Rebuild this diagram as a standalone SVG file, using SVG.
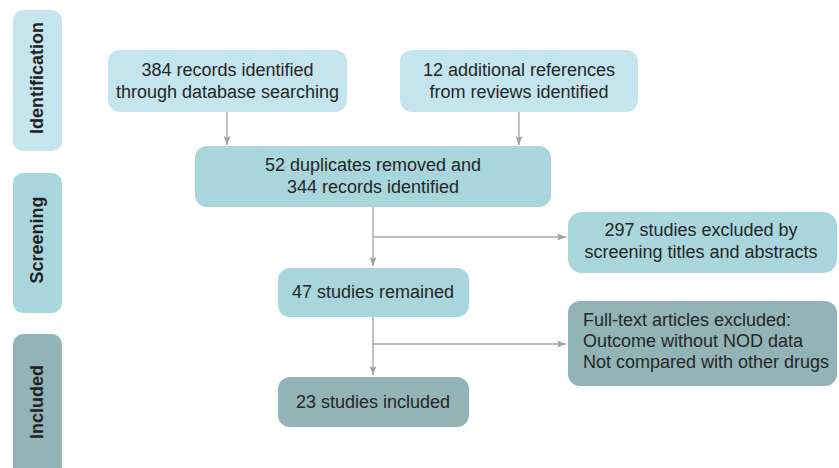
<svg xmlns="http://www.w3.org/2000/svg" width="839" height="468" viewBox="0 0 839 468">
<style>
.t{font-family:"Liberation Sans",Arial,sans-serif;font-size:18px;fill:#262626}
.c{text-anchor:middle}
.s{font-family:"Liberation Sans",Arial,sans-serif;font-size:18px;font-weight:bold;fill:#222;text-anchor:middle}
.l1{fill:#c4e4ee}
.l2{fill:#a9d6dc}
.l3{fill:#93b4b6}
.cn{stroke:#a6a6a6;stroke-width:1.4;fill:none}
</style>
<defs>
<marker id="ah" markerWidth="10" markerHeight="8" refX="9" refY="4" orient="auto" markerUnits="userSpaceOnUse">
<path d="M0,0.5 L9,4 L0,7.5 L2,4 Z" fill="#a0a0a0"/>
</marker>
</defs>
<rect width="839" height="468" fill="#fff"/>
<g id="stage-identification">
<rect class="l1" x="13" y="10" width="49" height="141" rx="10"/>
<text class="s" transform="translate(43,78) rotate(-90)">Identification</text>
</g>
<g id="stage-screening">
<rect class="l2" x="13" y="173" width="49" height="140" rx="10"/>
<text class="s" transform="translate(43,240) rotate(-90)">Screening</text>
</g>
<g id="stage-included">
<rect class="l3" x="13" y="334" width="49" height="150" rx="10"/>
<text class="s" transform="translate(43,402) rotate(-90)">Included</text>
</g>
<g id="connectors">
<line class="cn" x1="227" y1="112" x2="227" y2="145" marker-end="url(#ah)"/>
<line class="cn" x1="519" y1="112" x2="519" y2="145" marker-end="url(#ah)"/>
<line class="cn" x1="373" y1="207" x2="373" y2="266" marker-end="url(#ah)"/>
<line class="cn" x1="373" y1="237" x2="566" y2="237" marker-end="url(#ah)"/>
<line class="cn" x1="373" y1="317" x2="373" y2="375" marker-end="url(#ah)"/>
<line class="cn" x1="373" y1="344" x2="566" y2="344" marker-end="url(#ah)"/>
</g>
<g id="n-database">
<rect class="l1" x="108" y="50" width="239" height="62" rx="12"/>
<text class="t c" x="227.5" y="75.5">384 records identified</text>
<text class="t c" x="227.5" y="97.5">through database searching</text>
</g>
<g id="n-reviews">
<rect class="l1" x="400" y="50" width="238" height="62" rx="12"/>
<text class="t c" x="519" y="75.5">12 additional references</text>
<text class="t c" x="519" y="97.5">from reviews identified</text>
</g>
<g id="n-duplicates">
<rect class="l2" x="195" y="146" width="356" height="61" rx="12"/>
<text class="t c" x="373" y="171">52 duplicates removed and</text>
<text class="t c" x="373" y="193">344 records identified</text>
</g>
<g id="n-excluded-screen">
<rect class="l2" x="568" y="212" width="269" height="61" rx="14"/>
<text class="t c" x="701" y="236">297 studies excluded by</text>
<text class="t c" x="701" y="258">screening titles and abstracts</text>
</g>
<g id="n-remained">
<rect class="l2" x="278" y="268" width="191" height="49" rx="12"/>
<text class="t c" x="373" y="298">47 studies remained</text>
</g>
<g id="n-excluded-fulltext">
<rect class="l3" x="568" y="301" width="269" height="85" rx="12"/>
<text class="t" x="583" y="326">Full-text articles excluded:</text>
<text class="t" x="583" y="347">Outcome without NOD data</text>
<text class="t" x="583" y="368">Not compared with other drugs</text>
</g>
<g id="n-included">
<rect class="l3" x="278" y="377" width="191" height="50" rx="12"/>
<text class="t c" x="373" y="408">23 studies included</text>
</g>
</svg>
